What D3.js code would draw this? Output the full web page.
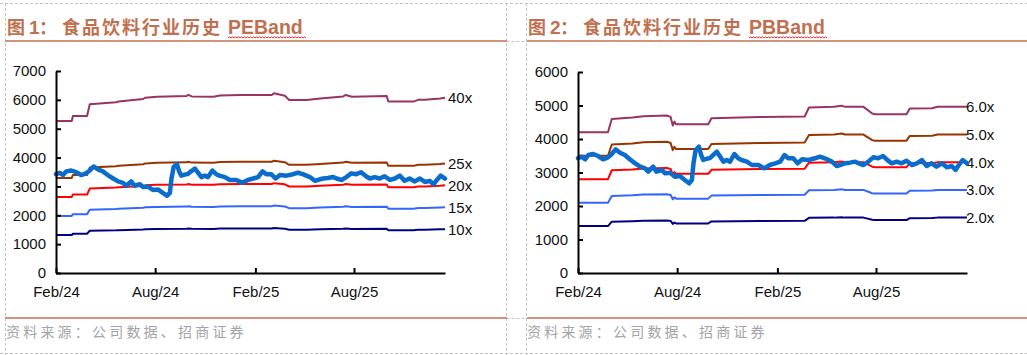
<!DOCTYPE html>
<html><head><meta charset="utf-8">
<script src="https://cdn.jsdelivr.net/npm/d3@7"></script>
<style>
html,body{margin:0;padding:0;background:#fff;}
svg{display:block;}
</style></head>
<body>
<svg id="c" width="1027" height="355"></svg>
<script>
// ---------- data ----------
const titles = ["食品饮料行业历史", "食品饮料行业历史"];
const titleSuffix = ["PEBand", "PBBand"];
const sourceText = "资料来源：公司数据、招商证券";
const xTickDates = ["2024-02-01", "2024-08-01", "2025-02-01", "2025-08-01"];
const xDomain = ["2024-02-01", "2026-01-15"];

// industry index (blue line, same in both charts)
const indexDates = ["2024-02-01","2024-02-08","2024-02-14","2024-02-20","2024-02-29","2024-03-09","2024-03-18","2024-03-27","2024-04-03","2024-04-10","2024-04-18","2024-04-27","2024-05-06","2024-05-16","2024-05-25","2024-06-03","2024-06-09","2024-06-18","2024-06-24","2024-07-04","2024-07-10","2024-07-19","2024-07-28","2024-08-06","2024-08-15","2024-08-23","2024-08-28","2024-08-31","2024-09-04","2024-09-10","2024-09-14","2024-09-18","2024-09-24","2024-09-30","2024-10-06","2024-10-13","2024-10-19","2024-10-25","2024-10-31","2024-11-06","2024-11-14","2024-11-21","2024-11-27","2024-12-07","2024-12-16","2024-12-28","2025-01-08","2025-01-18","2025-01-28","2025-02-06","2025-02-14","2025-02-21","2025-03-02","2025-03-10","2025-03-18","2025-03-30","2025-04-11","2025-04-20","2025-04-29","2025-05-12","2025-05-21","2025-05-27","2025-06-05","2025-06-14","2025-06-24","2025-06-30","2025-07-09","2025-07-18","2025-07-27","2025-08-05","2025-08-14","2025-08-23","2025-08-30","2025-09-08","2025-09-17","2025-09-26","2025-10-06","2025-10-15","2025-10-24","2025-11-02","2025-11-11","2025-11-20","2025-11-30","2025-12-09","2025-12-18","2025-12-25","2025-12-31","2026-01-07","2026-01-15"];
const indexValues = [3424,3473,3394,3522,3552,3492,3394,3453,3552,3692,3591,3522,3394,3274,3174,3125,3024,3174,3024,3075,2976,2995,2875,2896,2776,2677,2776,3274,3672,3770,3522,3373,3410,3430,3522,3621,3473,3324,3373,3324,3552,3424,3373,3324,3224,3224,3125,3224,3274,3324,3522,3424,3424,3274,3394,3373,3424,3473,3424,3324,3194,3224,3274,3294,3324,3274,3224,3324,3453,3424,3492,3353,3274,3324,3274,3353,3224,3274,3373,3194,3274,3174,3274,3155,3194,3075,3224,3373,3274];

// PE band (chart 1)
const peDates = ["2024-02-01","2024-03-01","2024-03-03","2024-03-29","2024-04-03","2024-05-21","2024-05-26","2024-07-10","2024-07-14","2024-08-04","2024-09-28","2024-10-01","2024-10-07","2024-11-16","2024-11-28","2025-01-04","2025-03-03","2025-03-07","2025-03-27","2025-04-04","2025-05-06","2025-05-31","2025-07-12","2025-07-17","2025-07-28","2025-09-30","2025-10-03","2025-11-18","2025-11-27","2025-12-09","2026-01-06","2026-01-15"];
const pe40 = [5270,5270,5440,5440,5850,5920,5940,6030,6075,6110,6135,6170,6120,6110,6150,6170,6170,6226,6144,5995,5995,6050,6120,6170,6110,6130,5940,5940,6000,6000,6050,6075];
const pe25 = [3294,3294,3400,3400,3656,3700,3713,3769,3797,3819,3834,3856,3825,3819,3844,3856,3856,3891,3840,3747,3747,3781,3825,3856,3819,3831,3713,3713,3750,3750,3781,3797];
const pe20 = [2635,2635,2720,2720,2925,2960,2970,3015,3038,3055,3068,3085,3060,3055,3075,3085,3085,3113,3072,2998,2998,3025,3060,3085,3055,3065,2970,2970,3000,3000,3025,3038];
const pe15 = [1976,1976,2040,2040,2194,2220,2228,2261,2278,2291,2301,2314,2295,2291,2306,2314,2314,2335,2304,2248,2248,2269,2295,2314,2291,2299,2228,2228,2250,2250,2269,2278];
const pe10 = [1318,1318,1360,1360,1463,1480,1485,1508,1519,1528,1534,1543,1530,1528,1538,1543,1543,1557,1536,1499,1499,1513,1530,1543,1528,1533,1485,1485,1500,1500,1513,1519];
const peLabels = ["40x","25x","20x","15x","10x"];

// PB band (chart 2)
const pbDates = ["2024-02-01","2024-03-27","2024-04-03","2024-05-11","2024-05-31","2024-07-13","2024-07-20","2024-07-24","2024-07-27","2024-07-30","2024-09-27","2024-10-03","2024-12-31","2025-03-23","2025-03-31","2025-05-16","2025-05-30","2025-06-05","2025-07-09","2025-07-25","2025-07-30","2025-09-26","2025-10-02","2025-11-12","2025-11-22","2026-01-15"];
const pb6 = [4200,4200,4600,4640,4680,4700,4660,4400,4520,4440,4440,4620,4657,4670,4940,4960,4995,4960,4960,4760,4740,4740,4910,4920,4960,4960];
const pb5 = [3500,3500,3833,3867,3900,3917,3883,3667,3767,3700,3700,3850,3881,3892,4117,4133,4163,4133,4133,3967,3950,3950,4092,4100,4133,4133];
const pb4 = [2800,2800,3067,3093,3120,3133,3107,2933,3013,2960,2960,3080,3105,3113,3293,3307,3330,3307,3307,3173,3160,3160,3273,3280,3307,3307];
const pb3 = [2100,2100,2300,2320,2340,2350,2330,2200,2260,2220,2220,2310,2329,2335,2470,2480,2498,2480,2480,2380,2370,2370,2455,2460,2480,2480];
const pb2 = [1400,1400,1533,1547,1560,1567,1553,1467,1507,1480,1480,1540,1552,1557,1647,1653,1665,1653,1653,1587,1580,1580,1637,1640,1653,1653];
const pbLabels = ["6.0x","5.0x","4.0x","3.0x","2.0x"];

const yTicks1 = [0,1000,2000,3000,4000,5000,6000,7000];
const yTicks2 = [0,1000,2000,3000,4000,5000,6000];

// ---------- styles ----------
const bandColors = ["#993366","#993300","#ff0000","#3366ff","#000080"];
const indexColor = "#0a6ccc";
const titleColor = "#c07050";

const parse = d3.utcParse("%Y-%m-%d");
const svg = d3.select("#c");

// frame (dashed table borders)
const dash = svg.append("g").attr("stroke","#c4c4c4").attr("stroke-dasharray","3,2").attr("fill","none");
[[0,3.5,1027,3.5],[0,353.5,1027,353.5],[5.5,3,5.5,355],[506.5,3,506.5,355],[526.5,3,526.5,355],
 [506.5,41.5,527,41.5],[506.5,318.5,527,318.5]].forEach(l=>{
  dash.append("line").attr("x1",l[0]).attr("y1",l[1]).attr("x2",l[2]).attr("y2",l[3]);
});

function panel(opt){
  const g = svg.append("g");
  // title
  const t = g.append("text").attr("y",34).attr("fill",titleColor).attr("font-weight","bold");
  t.append("tspan").attr("x",opt.tx).attr("font-family","Noto Sans CJK SC").attr("font-size",18).text("图");
  t.append("tspan").attr("x",opt.tx+22).attr("font-family","Liberation Sans, Arial").attr("font-size",19).text(opt.num);
  t.append("tspan").attr("x",opt.tx+32).attr("font-family","Noto Sans CJK SC").attr("font-size",18).text("：");
  t.append("tspan").attr("x",opt.tx+55).attr("font-family","Noto Sans CJK SC").attr("font-size",18)
    .attr("letter-spacing","2px").text(opt.title);
  t.append("tspan").attr("x",opt.tx+221).attr("font-family","Liberation Sans, Arial").attr("font-size",19.5).text(opt.suffix);
  // spell-check wavy underline
  let zz = "M"+(opt.tx+221)+",38";
  for(let i=0;i<52;i++){ zz += " l1.5,"+(i%2===0?-1.2:1.2); }
  g.append("path").attr("d",zz).attr("fill","none").attr("stroke","#ee1111").attr("stroke-width",0.9);
  // rules
  g.append("line").attr("x1",opt.rx0).attr("x2",opt.rx1).attr("y1",41).attr("y2",41)
    .attr("stroke",titleColor).attr("stroke-width",1.5);
  g.append("line").attr("x1",opt.rx0).attr("x2",opt.rx1).attr("y1",318).attr("y2",318)
    .attr("stroke",titleColor).attr("stroke-width",1.5);
  g.append("text").attr("x",opt.tx-1).attr("y",337).attr("font-family","Noto Sans CJK SC")
    .attr("font-size",14).attr("letter-spacing","3.2px").attr("fill","#a3a3a8").text(sourceText);

  // scales
  const x = d3.scaleUtc().domain(xDomain.map(parse)).range([opt.x0, opt.x1]);
  const y = d3.scaleLinear().domain([0, opt.ymax]).range([273, opt.ytop]);

  // bands
  const line = d3.line().x(d=>x(d[0])).y(d=>y(d[1]));
  opt.bands.forEach((vals,i)=>{
    const pts = opt.bandDates.map((d,j)=>[parse(d), vals[j]]);
    g.append("path").attr("d",line(pts)).attr("fill","none")
      .attr("stroke",bandColors[i]).attr("stroke-width",2).attr("stroke-linejoin","round");
    const last = pts[pts.length-1];
    g.append("text").attr("x",opt.x1+opt.lblOff).attr("y",y(last[1])).attr("dy","0.36em")
      .attr("font-family","Liberation Sans, Arial").attr("font-size",15).attr("fill","#111")
      .text(opt.labels[i]);
  });
  // index
  const ip = indexDates.map((d,j)=>[parse(d), indexValues[j]]);
  g.append("path").attr("d",line(ip)).attr("fill","none").attr("stroke",indexColor)
    .attr("stroke-width",4.5).attr("stroke-linejoin","round").attr("stroke-linecap","round");

  // axes
  const ya = g.append("g").attr("transform","translate("+opt.x0+",0)")
    .call(d3.axisLeft(y).tickValues(opt.yTicks).tickSizeInner(-5).tickSizeOuter(0).tickPadding(10).tickFormat(d3.format("d")));
  const xa = g.append("g").attr("transform","translate(0,273)")
    .call(d3.axisBottom(x).tickValues(xTickDates.map(parse)).tickSizeInner(-5).tickSizeOuter(0).tickPadding(13).tickFormat(d3.utcFormat("%b/%y")));
  [ya,xa].forEach(a=>{
    a.select(".domain").attr("stroke","#000").attr("stroke-width",2);
    a.selectAll(".tick line").attr("stroke","#000").attr("stroke-width",2);
    a.selectAll("text").attr("font-family","Liberation Sans, Arial").attr("font-size",15).attr("fill","#111");
  });
}

panel({tx:7, num:"1", title:titles[0], suffix:titleSuffix[0], rx0:5, rx1:507,
  x0:56, x1:445, ymax:7000, ytop:71, yTicks:yTicks1, lblOff:3,
  bandDates:peDates, bands:[pe40,pe25,pe20,pe15,pe10], labels:peLabels});
panel({tx:528, num:"2", title:titles[1], suffix:titleSuffix[1], rx0:527, rx1:1027,
  x0:578, x1:967, ymax:6000, ytop:72, yTicks:yTicks2, lblOff:-1,
  bandDates:pbDates, bands:[pb6,pb5,pb4,pb3,pb2], labels:pbLabels});
</script>
</body></html>
